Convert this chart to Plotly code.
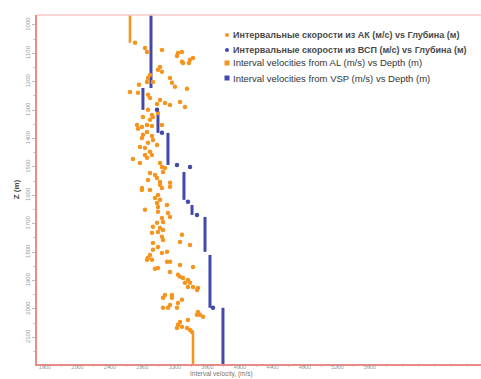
import plotly.graph_objects as go

# Interval velocities from acoustic logging (AL): scattered samples
al_velocity = [
    2708, 2831, 2856, 3040, 3237, 3286, 3225, 3286, 3299, 3385, 3422, 3373,
    3016, 2991, 3040, 2893, 2868, 2856, 2929, 3139, 3163, 3200, 3348, 2757,
    2646, 2745, 2868, 2893, 3016, 2979, 3077, 3139, 3262, 3323, 2868, 2917,
    2929, 2991, 2806, 2893, 2856, 2733, 2794, 2745, 2917, 3040, 2856, 2806,
    2917, 2929, 2794, 2769, 2831, 2868, 2893, 2831, 2856, 2917, 2979, 2683,
    2769, 3016, 3040, 3077, 3053, 2893, 2954, 2868, 2979, 3016, 3139, 3016,
    2794, 3139, 3040, 2794, 2893, 2991, 2954, 3016, 2979, 2991, 3102, 2831,
    2991, 3114, 3139, 3040, 3053, 2979, 2929, 3016, 3053, 2991, 2917, 3040,
    3053, 3286, 3262, 3385, 2929, 2991, 2929, 3102, 3040, 2893, 2868, 2917,
    2856, 3102, 3139, 3262, 2954, 2991, 3422, 3139, 3237, 3262, 3299, 3360,
    3323, 3385, 3422, 3483, 3471, 3360, 3077, 3163, 3163, 3053, 3286, 3237,
    3139, 3114, 3053, 3225, 3483, 3508, 3545, 3471, 3360, 3262, 3237, 3286,
    3225, 3348, 3385, 3410,
]
al_depth = [
    1063, 1081, 1095, 1088, 1099, 1095, 1109, 1130, 1134, 1123, 1116, 1134,
    1148, 1158, 1165, 1176, 1187, 1201, 1201, 1187, 1204, 1218, 1225, 1211,
    1236, 1239, 1246, 1257, 1264, 1278, 1275, 1282, 1271, 1289, 1299, 1317,
    1324, 1310, 1324, 1334, 1352, 1352, 1359, 1366, 1356, 1352, 1377, 1387,
    1391, 1405, 1398, 1430, 1433, 1415, 1447, 1458, 1468, 1458, 1423, 1472,
    1486, 1486, 1500, 1504, 1518, 1521, 1528, 1546, 1539, 1553, 1556, 1563,
    1574, 1570, 1574, 1581, 1581, 1599, 1609, 1616, 1627, 1641, 1634, 1651,
    1658, 1662, 1676, 1680, 1694, 1697, 1711, 1715, 1722, 1729, 1732, 1746,
    1757, 1739, 1764, 1775, 1768, 1782, 1792, 1799, 1803, 1810, 1820, 1827,
    1827, 1834, 1834, 1845, 1859, 1856, 1852, 1870, 1880, 1887, 1891, 1898,
    1908, 1908, 1923, 1926, 1933, 1923, 1951, 1951, 1961, 1961, 1968, 1979,
    1986, 1996, 1996, 1996, 2011, 2021, 2028, 2021, 2039, 2046, 2056, 2063,
    2067, 2067, 2074, 2081,
]

# AL interval velocity curve outside the sampled zone: (velocity, top, bottom)
al_curve_velocity = [2646, 3422]
al_curve_top = [950, 2084]
al_curve_bottom = [1063, 2210]

# Interval velocities from VSP: blocky layers (velocity, top, bottom)
vsp_velocity = [2905, 2806, 2991, 3114, 3311, 3410, 3570, 3631, 3791]
vsp_top = [950, 1222, 1310, 1380, 1518, 1634, 1676, 1810, 1996]
vsp_bottom = [1222, 1299, 1380, 1493, 1616, 1669, 1799, 1996, 2210]

# VSP samples between layers
vsp_pt_velocity = [2979, 3040, 3225, 3385, 3360, 3471, 3668]
vsp_pt_depth = [1299, 1380, 1493, 1500, 1623, 1669, 1996]

x_ticks = [1600, 2000, 2400, 2800, 3200, 3600, 4000, 4400, 4800, 5200, 5600]
y_ticks = [1000, 1100, 1200, 1300, 1400, 1500, 1600, 1700, 1800, 1900, 2000, 2100]

legend_labels = [
    "<b>Интервальные скорости из АК (м/с) vs Глубина (м)</b>",
    "<b>Интервальные скорости из ВСП (м/с) vs Глубина (м)</b>",
    "Interval velocities from AL (m/s) vs Depth (m)",
    "Interval velocities from VSP (m/s) vs Depth (m)",
]

ORANGE = "#F7941D"
BLUE = "#4249A8"


def segments(vals, tops, bottoms):
    xs, ys = [], []
    for v, t, b in zip(vals, tops, bottoms):
        xs += [v, v, None]
        ys += [t, b, None]
    return xs, ys


fig = go.Figure()

ax, ay = segments(al_curve_velocity, al_curve_top, al_curve_bottom)
fig.add_trace(go.Scatter(x=ax, y=ay, mode="lines",
                         line=dict(color=ORANGE, width=2.5), showlegend=False))

vx, vy = segments(vsp_velocity, vsp_top, vsp_bottom)
fig.add_trace(go.Scatter(x=vx, y=vy, mode="lines",
                         line=dict(color=BLUE, width=3), showlegend=False))

fig.add_trace(go.Scatter(x=al_velocity, y=al_depth, mode="markers",
                         marker=dict(color=ORANGE, size=4.5), showlegend=False))
fig.add_trace(go.Scatter(x=vsp_pt_velocity, y=vsp_pt_depth, mode="markers",
                         marker=dict(color=BLUE, size=4.5), showlegend=False))

# Legend block (drawn by hand for tight row spacing)
W, H = 481, 379
L, R, T, B = 37, 0, 15, 15
pw, ph = W - L - R, H - T - B


def px(xp):
    return (xp - L) / pw


def py(yp):
    return (H - B - yp) / ph


rows = [35, 50, 63, 78]
colors = [ORANGE, BLUE, ORANGE, BLUE]
shapes = []
annotations = []
for i, (yy, c, lab) in enumerate(zip(rows, colors, legend_labels)):
    if i < 2:
        shapes.append(dict(type="circle", xref="paper", yref="paper",
                           x0=px(225), x1=px(229), y0=py(yy + 2), y1=py(yy - 2),
                           fillcolor=c, line=dict(width=0)))
        fcol, fsize = "#4a4a4a", 9
    else:
        shapes.append(dict(type="rect", xref="paper", yref="paper",
                           x0=px(224.5), x1=px(229.5), y0=py(yy + 2.5), y1=py(yy - 2.5),
                           fillcolor=c, line=dict(width=0)))
        fcol, fsize = "#333333", 9.5
    annotations.append(dict(x=px(231), y=py(yy), xref="paper", yref="paper",
                            text=lab, showarrow=False, xanchor="left", yanchor="middle",
                            font=dict(family="Liberation Sans, Arial", size=fsize, color=fcol)))

# top border
shapes.append(dict(type="line", xref="paper", yref="paper", x0=0, x1=1, y0=1, y1=1,
                   line=dict(color="#F6C9C9", width=1.5)))

annotations.append(dict(x=px(221), y=py(379), xref="paper", yref="paper",
                        text="Interval velocity, (m/s)", showarrow=False,
                        xanchor="center", yanchor="bottom", borderpad=0,
                        font=dict(family="Liberation Sans, Arial", size=6.5, color="#777777")))

fig.update_layout(
    width=W, height=H,
    margin=dict(l=L, r=R, t=T, b=B),
    paper_bgcolor="white", plot_bgcolor="white",
    shapes=shapes, annotations=annotations,
    showlegend=False,
    font=dict(family="Liberation Sans, Arial"),
)
fig.update_xaxes(
    range=[1502, 6967], tickvals=x_ticks, showgrid=False, zeroline=False,
    showline=True, linecolor="#EE8A86", linewidth=1.5,
    ticks="outside", ticklen=2, tickcolor="#bbbbbb",
    ticklabelstandoff=-5,
    tickfont=dict(size=5.5, color="#9a9a9a"),
    minor=dict(ticks="outside", ticklen=1.5, tickcolor="#cccccc", dtick=200),
)
fig.update_yaxes(
    range=[2194, 965], tickvals=y_ticks, showgrid=False, zeroline=False,
    showline=True, linecolor="#EE8A86", linewidth=1.5,
    ticks="outside", ticklen=3, tickcolor="#bbbbbb", tickangle=-90,
    tickfont=dict(size=6, color="#9a9a9a"),
    minor=dict(ticks="outside", ticklen=2, tickcolor="#cccccc", dtick=50),
    title=dict(text="<b>Z (m)</b>", font=dict(size=8, color="#444444"), standoff=4),
)

fig.write_html("out.html")
